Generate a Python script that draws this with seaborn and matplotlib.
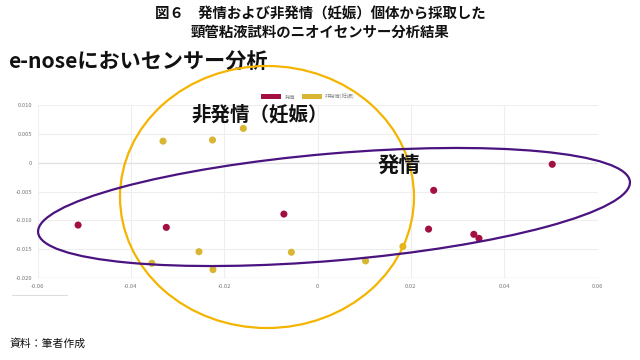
import matplotlib
matplotlib.use("Agg")
import matplotlib.pyplot as plt
import seaborn as sns
import pandas as pd
from matplotlib.patches import Ellipse, Patch
from matplotlib.lines import Line2D
from matplotlib.transforms import IdentityTransform

# ---- data ----
estrus_x = [-0.0513, -0.0324, -0.0072, 0.0249, 0.0238, 0.0335, 0.0346, 0.0503]
estrus_y = [-0.0108, -0.0112, -0.0089, -0.0048, -0.0115, -0.0124, -0.0131, -0.0003]
nonestrus_x = [-0.0331, -0.0225, -0.0159, -0.0254, -0.0056, -0.0355, -0.0224, 0.0103, 0.0183]
nonestrus_y = [0.0037, 0.0039, 0.0059, -0.0154, -0.0155, -0.0174, -0.0185, -0.0170, -0.0145]
groups = ["発情", "非発情(妊娠)"]
x_ticks = [-0.06, -0.04, -0.02, 0, 0.02, 0.04, 0.06]
x_tick_labels = ["-0.06", "-0.04", "-0.02", "0", "0.02", "0.04", "0.06"]
y_ticks = [0.010, 0.005, 0, -0.005, -0.010, -0.015, -0.020]
y_tick_labels = ["0.010", "0.005", "0", "-0.005", "-0.010", "-0.015", "-0.020"]

title_line1 = "図６　発情および非発情（妊娠）個体から採取した"
title_line2 = "頸管粘液試料のニオイセンサー分析結果"
subtitle = "e-noseにおいセンサー分析"
label_nonestrus = "非発情（妊娠）"
label_estrus = "発情"
source = "資料：筆者作成"

RED = "#A3103F"
YEL = "#D8B634"
GOLD = "#F4B400"
PURPLE = "#4A1380"

df = pd.DataFrame({
    "x": estrus_x + nonestrus_x,
    "y": estrus_y + nonestrus_y,
    "group": [groups[0]] * len(estrus_x) + [groups[1]] * len(nonestrus_x),
})

sns.set_theme(style="white")
plt.rcParams["font.family"] = ["Noto Sans CJK JP", "DejaVu Sans"]

W, H = 640, 360
fig = plt.figure(figsize=(6.4, 3.6), dpi=100)
fig.patch.set_facecolor("white")

ax_left, ax_right, ax_top, ax_bottom = 37.5, 597.5, 104.7, 278.3
ax = fig.add_axes([ax_left / W, 1 - ax_bottom / H, (ax_right - ax_left) / W, (ax_bottom - ax_top) / H])

sns.scatterplot(data=df, x="x", y="y", hue="group", palette={groups[0]: RED, groups[1]: YEL},
                s=26, edgecolor="none", legend=False, ax=ax, zorder=3)

ax.set_xlim(-0.06, 0.06)
ax.set_ylim(-0.020, 0.010)
ax.set_xticks(x_ticks)
ax.set_xticklabels(x_tick_labels)
ax.set_yticks(y_ticks)
ax.set_yticklabels(y_tick_labels)
ax.tick_params(axis="both", labelsize=4.2, colors="#777777", length=0, pad=4)
ax.set_xlabel("")
ax.set_ylabel("")
for s in ax.spines.values():
    s.set_visible(False)
ax.grid(True, color="#eeeeee", linewidth=0.8)
ax.axhline(0, color="#e2e2e2", linewidth=1.0, zorder=1)
ax.axhline(-0.020, color="#e6e6e6", linewidth=1.0, zorder=1)
ax.set_axisbelow(True)

# legend
handles = [Patch(facecolor=RED, edgecolor="none"), Patch(facecolor=YEL, edgecolor="none")]
leg = fig.legend(handles, groups, loc="center", bbox_to_anchor=(308 / W, 1 - 96.5 / H), ncol=2,
                 frameon=False, fontsize=3.8, handlelength=3.8, handleheight=0.9,
                 handletextpad=0.6, columnspacing=1.3, labelcolor="#888888")

# ellipses (annotation overlays, in pixel space)
def pix(xp, yp):
    return (xp, H - yp)

e1 = Ellipse(pix(267, 197), width=294, height=262, angle=0, fill=False, edgecolor=GOLD,
             linewidth=1.6, transform=IdentityTransform(), clip_on=False, zorder=4)
e2 = Ellipse(pix(334, 207), width=594, height=107, angle=4.9, fill=False, edgecolor=PURPLE,
             linewidth=1.6, transform=IdentityTransform(), clip_on=False, zorder=4)
fig.add_artist(e1)
fig.add_artist(e2)

# texts
fig.text(0.5, 1 - 14 / H, title_line1, ha="center", va="center", fontsize=10.4, fontweight="bold", color="#111111")
fig.text(0.5, 1 - 33 / H, title_line2, ha="center", va="center", fontsize=10.4, fontweight="bold", color="#111111")
fig.text(8 / W, 1 - 62 / H, subtitle, ha="left", va="center", fontsize=15.2, fontweight="bold", color="#111111")
fig.text(191 / W, 1 - 115 / H, label_nonestrus, ha="left", va="center", fontsize=14, fontweight="bold", color="#111111", zorder=5)
fig.text(378 / W, 1 - 165 / H, label_estrus, ha="left", va="center", fontsize=15.5, fontweight="bold", color="#111111", zorder=5)
fig.text(10 / W, 1 - 344 / H, source, ha="left", va="center", fontsize=7.8, color="#111111")

# small scrollbar-like line under the axis
fig.add_artist(Line2D([12 / W, 67 / W], [1 - 294.7 / H, 1 - 294.7 / H], color="#dddddd", linewidth=0.8))

fig.savefig("out.png", dpi=100, facecolor="white")
